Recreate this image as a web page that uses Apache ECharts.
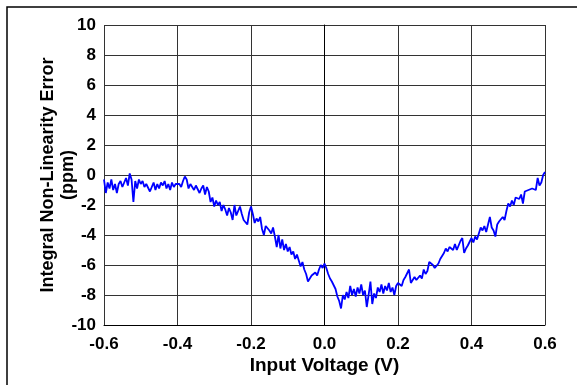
<!DOCTYPE html>
<html>
<head>
<meta charset="utf-8">
<script src="https://cdn.jsdelivr.net/npm/echarts@6/dist/echarts.min.js"></script>
<style>
  html, body { margin: 0; padding: 0; background: #fff; }
  #chart { width: 577px; height: 385px; }
</style>
</head>
<body>
<div id="chart"></div>
<script>
// sampled input voltages: -0.6 V to 0.6 V, one reading every 5 mV
const xStart = -0.6;
const xStep = 0.005;

// integral non-linearity error (ppm)
const inlValues = [
  -0.3, -1.2, -0.5, -0.9, -0.3, -1.0, -0.6, -1.2, -0.6, -0.4,
  -0.8, -0.5, -0.2, -0.7, 0.1, -0.3, -1.8, -0.4, -0.9, -0.3,
  -0.6, -0.4, -0.8, -0.6, -0.7, -1.1, -0.8, -0.5, -1.0, -0.6,
  -0.9, -0.5, -0.7, -0.4, -0.9, -0.6, -1.0, -0.5, -0.8, -0.6,
  -0.7, -0.6, -0.8, -0.4, -0.1, -0.3, -0.9, -0.6, -0.8, -1.0,
  -0.7, -0.8, -1.2, -0.9, -0.7, -1.3, -0.8, -1.1, -1.8, -1.5,
  -2.1, -1.7, -2.0, -1.8, -2.4, -2.0, -2.3, -2.7, -2.2, -2.5,
  -3.0, -2.0, -2.7, -2.8, -2.1, -2.6, -3.0, -2.9, -3.3, -2.5,
  -2.1, -2.6, -3.2, -2.9, -3.1, -2.8, -3.6, -4.0, -3.4, -3.3,
  -3.7, -3.9, -3.5, -4.1, -4.8, -4.0, -4.9, -4.3, -5.0, -4.6,
  -5.1, -4.8, -5.3, -5.1, -5.6, -5.3, -5.7, -6.1, -5.8, -6.3,
  -6.6, -7.1, -7.0, -6.7, -6.8, -6.5, -6.7, -6.3, -6.0, -6.2,
  -5.9, -6.2, -6.6, -6.9, -7.1, -7.2, -7.6, -8.1, -8.4, -8.9,
  -8.0, -8.3, -7.8, -8.2, -7.4, -8.0, -7.6, -8.1, -7.5, -7.9,
  -7.3, -8.0, -7.7, -8.8, -8.0, -7.1, -8.6, -7.9, -8.2, -7.5,
  -7.8, -7.3, -7.9, -7.4, -7.7, -7.2, -7.8, -7.5, -8.0, -7.4,
  -7.2, -7.1, -7.4, -7.0, -6.8, -6.9, -6.3, -7.2, -7.0, -6.8,
  -7.0, -6.9, -6.7, -6.9, -6.3, -6.6, -6.4, -5.8, -5.9, -6.0,
  -6.2, -6.1, -5.9, -5.6, -5.7, -5.2, -4.9, -5.1, -4.8, -4.9,
  -5.0, -4.6, -5.0, -4.9, -4.4, -4.2, -5.2, -4.9, -4.7, -4.6,
  -4.2, -4.5, -4.1, -4.3, -3.9, -3.5, -3.7, -3.4, -3.8, -3.3,
  -2.8, -3.5, -3.7, -4.1, -3.3, -3.1, -3.2, -2.8, -3.0, -2.4,
  -1.9, -2.1, -1.7, -2.0, -1.5, -1.4, -1.6, -1.3, -1.9, -1.1,
  -1.2, -1.0, -1.1, -0.9, -0.8, -1.0, -0.2, -0.7, -0.5, 0.0,
  0.2
];

const xAxisName = "Input Voltage (V)";
const yAxisName = "Integral Non-Linearity Error\n(ppm)";

const seriesData = inlValues.map((v, i) => [+(xStart + i * xStep).toFixed(3), v]);

const chart = echarts.init(document.getElementById("chart"), null, { renderer: "canvas" });

const labelFont = {
  fontFamily: "Liberation Sans, Arial, sans-serif",
  fontWeight: "bold",
  fontSize: 17,
  color: "#000",
};

const option = {
  backgroundColor: "#fff",
  animation: false,
  grid: { left: 104, right: 32, top: 25, bottom: 60 },
  graphic: [
    {
      type: "rect",
      shape: { x: 7, y: 7, width: 600, height: 400 },
      style: { fill: null, stroke: "#000", lineWidth: 1.5 },
      silent: true,
    },
  ],
  xAxis: {
    type: "value",
    min: -0.6,
    max: 0.6,
    interval: 0.2,
    name: xAxisName,
    nameLocation: "middle",
    nameGap: 31,
    nameMoveOverlap: false,
    nameTextStyle: { ...labelFont, fontSize: 19 },
    axisLine: { show: true, onZero: false, lineStyle: { color: "#000", width: 1 } },
    axisTick: { show: false },
    axisLabel: {
      ...labelFont,
      margin: 11,
      formatter: (v) => v.toFixed(1),
    },
    splitLine: { show: true, lineStyle: { color: "#333", width: 1 } },
  },
  yAxis: {
    type: "value",
    min: -10,
    max: 10,
    interval: 2,
    name: yAxisName,
    nameLocation: "middle",
    nameGap: 26,
    nameMoveOverlap: false,
    nameTextStyle: { ...labelFont, fontSize: 18, lineHeight: 20 },
    axisLine: { show: true, lineStyle: { color: "#000", width: 1 } },
    axisTick: { show: false },
    axisLabel: { ...labelFont, margin: 8 },
    splitLine: { show: true, lineStyle: { color: "#333", width: 1 } },
  },
  series: [
    {
      type: "line",
      data: seriesData,
      showSymbol: false,
      lineStyle: { color: "#0000ff", width: 1.8 },
      silent: true,
    },
  ],
};

chart.setOption(option);
</script>
</body>
</html>
